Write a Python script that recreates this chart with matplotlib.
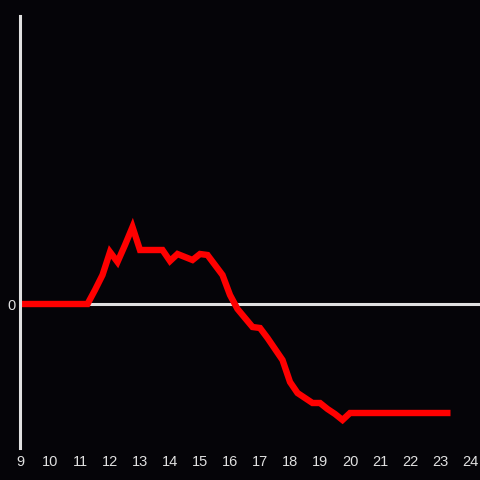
import matplotlib
matplotlib.use("Agg")
import matplotlib.pyplot as plt

hours = [9.0, 11.25, 11.5, 11.75, 12.0, 12.25, 12.5, 12.75, 13.0, 13.25, 13.5, 13.75,
         14.0, 14.25, 14.5, 14.75, 15.0, 15.25, 15.5, 15.75, 16.0, 16.25, 16.5, 16.75,
         17.0, 17.25, 17.5, 17.75, 18.0, 18.25, 18.5, 18.75, 19.0, 19.25, 19.5, 19.75,
         20.0, 20.5, 21.0, 21.5, 22.0, 22.5, 23.0, 23.35]
values = [0, 0, 14, 29, 52, 42, 59, 77, 54, 54, 54, 54,
          43, 50, 47, 44, 50, 49, 39, 29, 9, -5, -14, -23,
          -24, -34, -45, -56, -78, -89, -94, -99, -99, -105, -110, -116,
          -109, -109, -109, -109, -109, -109, -109, -109]
xticks = list(range(9, 25))

bg = "#050408"
grey = "#e0e0e0"

fig = plt.figure(figsize=(4.8, 4.8), dpi=100, facecolor=bg)
ax = fig.add_axes([20 / 480, 32 / 480, 460 / 480, 432 / 480], facecolor=bg)

ax.axhline(0, color=grey, lw=2.2, zorder=1)
ax.plot(hours, values, color="#ff0000", lw=4.6, solid_joinstyle="miter",
        solid_capstyle="butt", zorder=2)

ax.set_xlim(9, 24.333)
ax.set_ylim(-144, 288)
ax.set_xticks(xticks)
ax.set_yticks([0])
ax.tick_params(length=0, colors=grey, labelsize=10.5, pad=5)
ax.tick_params(axis="y", pad=3)
for s in ["top", "right", "bottom"]:
    ax.spines[s].set_visible(False)
ax.spines["left"].set_color(grey)
ax.spines["left"].set_linewidth(2.2)

for lab in ax.get_xticklabels() + ax.get_yticklabels():
    lab.set_family(["Liberation Sans", "DejaVu Sans"])

fig.savefig("out.png", dpi=100, facecolor=bg)
